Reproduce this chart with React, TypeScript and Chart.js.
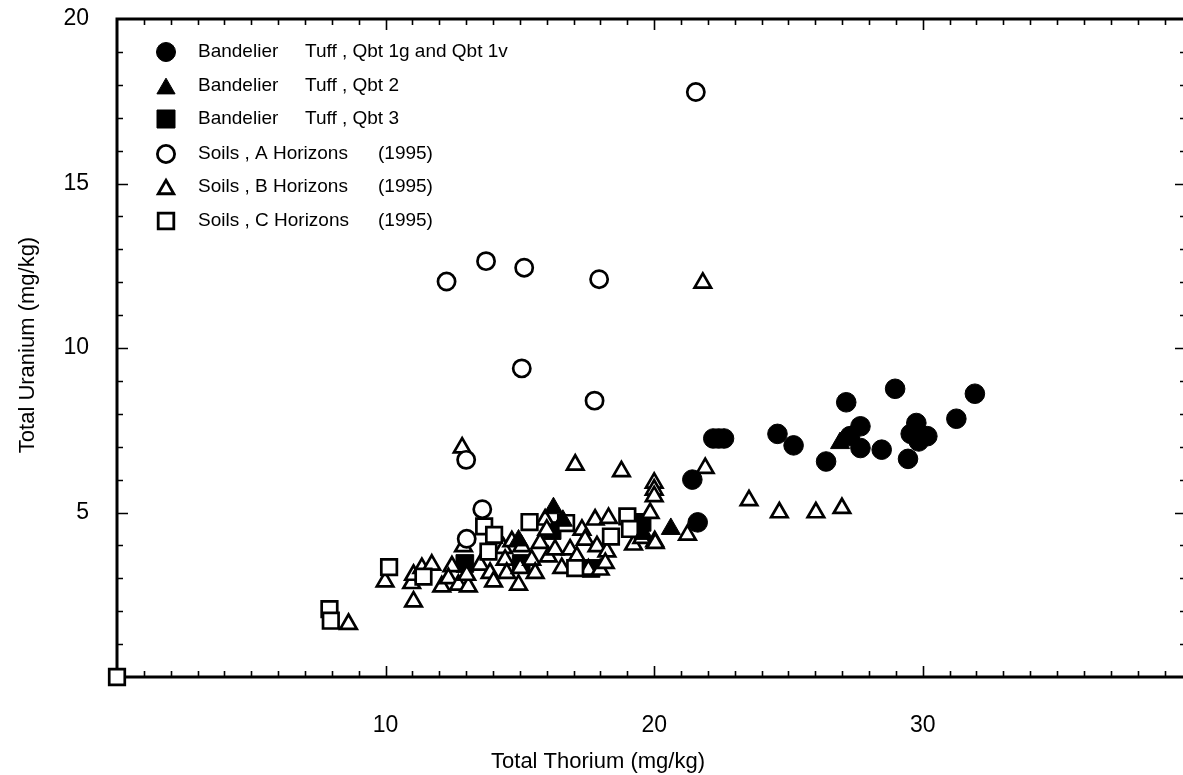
import React, { useEffect, useRef } from "react";
import { Chart, registerables } from "chart.js";

Chart.register(...registerables);

type P = { x: number; y: number };

// Bandelier Tuff, Qbt 1g and Qbt 1v (filled circles)
const qbt1: P[] = [
  { x: 21.42, y: 6.0 }, { x: 21.62, y: 4.7 }, { x: 22.2, y: 7.25 }, { x: 22.4, y: 7.25 },
  { x: 22.6, y: 7.25 }, { x: 24.59, y: 7.39 }, { x: 25.19, y: 7.04 }, { x: 26.4, y: 6.55 },
  { x: 27.15, y: 8.35 }, { x: 27.68, y: 7.62 }, { x: 27.29, y: 7.32 }, { x: 27.68, y: 6.96 },
  { x: 28.47, y: 6.91 }, { x: 28.97, y: 8.76 }, { x: 29.76, y: 7.72 }, { x: 29.55, y: 7.39 },
  { x: 30.17, y: 7.32 }, { x: 29.85, y: 7.16 }, { x: 29.45, y: 6.63 }, { x: 31.25, y: 7.85 },
  { x: 31.94, y: 8.61 },
];

// Bandelier Tuff, Qbt 2 (filled triangles)
const qbt2: P[] = [
  { x: 26.92, y: 7.11 }, { x: 20.62, y: 4.5 }, { x: 16.25, y: 5.13 }, { x: 14.95, y: 4.15 },
  { x: 19.6, y: 4.35 }, { x: 16.6, y: 4.75 },
];

// Bandelier Tuff, Qbt 3 (filled squares)
const qbt3: P[] = [
  { x: 12.95, y: 3.45 }, { x: 16.2, y: 4.45 }, { x: 15.05, y: 3.45 }, { x: 17.65, y: 3.3 },
  { x: 19.55, y: 4.7 },
];

// Soils, A Horizons (1995) (open circles)
const soilA: P[] = [
  { x: 12.27, y: 12.02 }, { x: 13.74, y: 12.64 }, { x: 15.16, y: 12.44 }, { x: 17.95, y: 12.09 },
  { x: 21.55, y: 17.78 }, { x: 15.07, y: 9.38 }, { x: 17.78, y: 8.4 }, { x: 13.0, y: 6.6 },
  { x: 13.6, y: 5.1 }, { x: 13.02, y: 4.2 },
];

// Soils, B Horizons (1995) (open triangles)
const soilB: P[] = [
  { x: 21.81, y: 11.98 }, { x: 12.85, y: 6.97 }, { x: 17.06, y: 6.45 }, { x: 18.78, y: 6.25 },
  { x: 21.9, y: 6.35 }, { x: 20.0, y: 5.9 }, { x: 20.0, y: 5.69 }, { x: 20.0, y: 5.49 },
  { x: 23.53, y: 5.37 }, { x: 24.66, y: 5.0 }, { x: 26.02, y: 5.0 }, { x: 26.99, y: 5.13 },
  { x: 21.24, y: 4.32 }, { x: 20.02, y: 4.12 }, { x: 8.62, y: 1.61 }, { x: 9.98, y: 2.9 },
  { x: 11.04, y: 2.29 }, { x: 10.97, y: 2.85 }, { x: 11.04, y: 3.1 }, { x: 11.35, y: 3.31 },
  { x: 11.72, y: 3.41 }, { x: 12.09, y: 2.75 }, { x: 12.47, y: 3.36 }, { x: 12.34, y: 3.0 },
  { x: 12.71, y: 2.8 }, { x: 13.08, y: 2.75 }, { x: 13.02, y: 3.1 }, { x: 12.9, y: 3.97 },
  { x: 13.52, y: 3.41 }, { x: 13.89, y: 3.16 }, { x: 14.02, y: 2.9 }, { x: 14.39, y: 3.92 },
  { x: 14.45, y: 3.56 }, { x: 14.51, y: 3.16 }, { x: 14.7, y: 4.12 }, { x: 15.01, y: 3.31 },
  { x: 14.95, y: 2.8 }, { x: 15.07, y: 3.97 }, { x: 15.44, y: 3.56 }, { x: 15.57, y: 3.16 },
  { x: 15.75, y: 4.07 }, { x: 15.94, y: 4.78 }, { x: 16.0, y: 4.47 }, { x: 16.06, y: 3.66 },
  { x: 16.31, y: 3.87 }, { x: 16.56, y: 3.31 }, { x: 16.87, y: 3.87 }, { x: 17.12, y: 3.66 },
  { x: 17.31, y: 4.47 }, { x: 17.43, y: 4.17 }, { x: 17.55, y: 3.26 }, { x: 17.8, y: 4.78 },
  { x: 17.87, y: 3.97 }, { x: 17.99, y: 3.26 }, { x: 18.3, y: 4.83 }, { x: 18.24, y: 3.81 },
  { x: 18.18, y: 3.46 }, { x: 19.23, y: 4.02 }, { x: 19.54, y: 4.22 }, { x: 20.04, y: 4.07 },
  { x: 19.85, y: 4.98 },
];

// Soils, C Horizons (1995) (open squares)
const soilC: P[] = [
  { x: 0, y: 0 }, { x: 7.91, y: 2.06 }, { x: 7.96, y: 1.71 }, { x: 10.13, y: 3.34 },
  { x: 11.41, y: 3.05 }, { x: 13.67, y: 4.58 }, { x: 14.04, y: 4.32 }, { x: 13.83, y: 3.81 },
  { x: 15.36, y: 4.71 }, { x: 16.72, y: 4.68 }, { x: 17.06, y: 3.31 }, { x: 18.39, y: 4.27 },
  { x: 19.0, y: 4.88 }, { x: 19.1, y: 4.5 },
];

const X_MIN = 0;
const X_MAX = 39.8;
const Y_MIN = 0;
const Y_MAX = 20;
const X_LABELS = [10, 20, 30];
const Y_LABELS = [5, 10, 15, 20];
const X_TITLE = "Total Thorium (mg/kg)";
const Y_TITLE = "Total Uranium (mg/kg)";

type Shape = "circle" | "triangle" | "rect";
const LEGEND: { shape: Shape; filled: boolean; a: string; b: string; bx: number }[] = [
  { shape: "circle", filled: true, a: "Bandelier", b: "Tuff , Qbt 1g and Qbt 1v", bx: 305 },
  { shape: "triangle", filled: true, a: "Bandelier", b: "Tuff , Qbt 2", bx: 305 },
  { shape: "rect", filled: true, a: "Bandelier", b: "Tuff , Qbt 3", bx: 305 },
  { shape: "circle", filled: false, a: "Soils , A Horizons", b: "(1995)", bx: 378 },
  { shape: "triangle", filled: false, a: "Soils , B Horizons", b: "(1995)", bx: 378 },
  { shape: "rect", filled: false, a: "Soils , C Horizons", b: "(1995)", bx: 378 },
];

const FONT = '"Liberation Sans", Arial, Helvetica, sans-serif';

function drawMarker(ctx: CanvasRenderingContext2D, shape: Shape, filled: boolean, cx: number, cy: number) {
  ctx.beginPath();
  if (shape === "circle") {
    ctx.arc(cx, cy, filled ? 9.5 : 8.6, 0, Math.PI * 2);
  } else if (shape === "triangle") {
    const r = filled ? 10.5 : 9;
    const oy = cy + r * 0.25;
    ctx.moveTo(cx, oy - r);
    ctx.lineTo(cx + r * 0.866, oy + r * 0.5);
    ctx.lineTo(cx - r * 0.866, oy + r * 0.5);
    ctx.closePath();
  } else {
    const h = filled ? 9 : 7.8;
    ctx.rect(cx - h, cy - h, 2 * h, 2 * h);
  }
  ctx.fillStyle = filled ? "#000" : "#fff";
  ctx.fill();
  ctx.lineWidth = filled ? 1 : 2.8;
  ctx.strokeStyle = "#000";
  ctx.lineJoin = "miter";
  ctx.stroke();
}

const framePlugin = {
  id: "frame",
  beforeDatasetsDraw(chart: any) {
    const { ctx, chartArea: a, scales } = chart;
    const x = scales.x;
    const y = scales.y;
    ctx.save();
    ctx.strokeStyle = "#000";
    ctx.lineCap = "butt";
    ctx.lineWidth = 1.6;
    ctx.beginPath();
    for (let v = Math.ceil(X_MIN) + 1; v < X_MAX; v++) {
      const px = Math.round(x.getPixelForValue(v)) + 0.5;
      const len = v % 10 === 0 ? 11 : 6;
      ctx.moveTo(px, a.bottom);
      ctx.lineTo(px, a.bottom - len);
      ctx.moveTo(px, a.top);
      ctx.lineTo(px, a.top + len);
    }
    for (let v = Y_MIN + 1; v < Y_MAX; v++) {
      const py = Math.round(y.getPixelForValue(v)) + 0.5;
      const len = v % 5 === 0 ? 11 : 6;
      ctx.moveTo(a.left, py);
      ctx.lineTo(a.left + len, py);
      ctx.moveTo(a.right, py);
      ctx.lineTo(a.right - len, py);
    }
    ctx.stroke();
    ctx.lineWidth = 3;
    ctx.beginPath();
    ctx.moveTo(a.left, a.top);
    ctx.lineTo(a.right, a.top);
    ctx.lineTo(a.right, a.bottom);
    ctx.lineTo(a.left, a.bottom);
    ctx.closePath();
    ctx.stroke();

    // axis titles
    ctx.fillStyle = "#000";
    ctx.font = `22px ${FONT}`;
    ctx.textAlign = "center";
    ctx.textBaseline = "middle";
    ctx.fillText(X_TITLE, 598, 762);
    ctx.translate(28, 345);
    ctx.rotate(-Math.PI / 2);
    ctx.fillText(Y_TITLE, 0, 0);
    ctx.restore();
  },
  afterDraw(chart: any) {
    const { ctx } = chart;
    ctx.save();
    const rowY = [52, 86, 119, 154, 187, 221];
    LEGEND.forEach((item, i) => {
      drawMarker(ctx, item.shape, item.filled, 166, rowY[i]);
      ctx.fillStyle = "#000";
      ctx.font = `19px ${FONT}`;
      ctx.textAlign = "left";
      ctx.textBaseline = "middle";
      ctx.fillText(item.a, 198, rowY[i]);
      ctx.fillText(item.b, item.bx, rowY[i]);
    });
    ctx.restore();
  },
};

function ds(label: string, data: P[], style: Shape, filled: boolean, radius: number, order: number) {
  return {
    label,
    data,
    pointStyle: style,
    pointRadius: radius,
    pointHoverRadius: radius,
    pointBackgroundColor: filled ? "#000" : "#fff",
    pointBorderColor: "#000",
    pointBorderWidth: filled ? 1 : 2.7,
    showLine: false,
    clip: false,
    order,
  };
}

export default function App() {
  const ref = useRef<HTMLCanvasElement | null>(null);
  useEffect(() => {
    if (!ref.current) return;
    const chart = new Chart(ref.current, {
      type: "scatter",
      data: {
        datasets: [
          ds("Bandelier Tuff, Qbt 3", qbt3, "rect", true, 12.5, 6),
          ds("Soils, B Horizons (1995)", soilB, "triangle", false, 9.5, 5),
          ds("Soils, C Horizons (1995)", soilC, "rect", false, 11, 4),
          ds("Soils, A Horizons (1995)", soilA, "circle", false, 8.6, 3),
          ds("Bandelier Tuff, Qbt 2", qbt2, "triangle", true, 11, 2),
          ds("Bandelier Tuff, Qbt 1g and Qbt 1v", qbt1, "circle", true, 9.8, 1),
        ] as any,
      },
      options: {
        responsive: false,
        animation: false,
        events: [],
        layout: { padding: { top: 19, right: 14, left: 0, bottom: 0 } },
        plugins: { legend: { display: false }, tooltip: { enabled: false } },
        scales: {
          x: {
            type: "linear",
            min: X_MIN,
            max: X_MAX,
            grid: { display: false },
            border: { display: false },
            afterFit: (s: any) => {
              s.height = 98;
              s.paddingLeft = 0;
              s.paddingRight = 0;
            },
            afterBuildTicks: (s: any) => { s.ticks = X_LABELS.map((v) => ({ value: v })); },
            ticks: {
              autoSkip: false,
              maxRotation: 0,
              padding: 27,
              color: "#000",
              font: { family: FONT, size: 23 },
            },
          },
          y: {
            type: "linear",
            min: Y_MIN,
            max: Y_MAX,
            grid: { display: false },
            border: { display: false },
            afterFit: (s: any) => {
              s.width = 117;
              s.paddingTop = 0;
              s.paddingBottom = 0;
            },
            afterBuildTicks: (s: any) => { s.ticks = Y_LABELS.map((v) => ({ value: v })); },
            ticks: {
              padding: 20,
              color: "#000",
              font: { family: FONT, size: 23 },
            },
          },
        },
      },
      plugins: [framePlugin],
    });
    return () => chart.destroy();
  }, []);
  return (
    <div style={{ position: "fixed", left: 0, top: 0, width: 1183, height: 775, overflow: "hidden", background: "#fff" }}>
      <canvas ref={ref} width={1200} height={775} style={{ display: "block" }} />
    </div>
  );
}
